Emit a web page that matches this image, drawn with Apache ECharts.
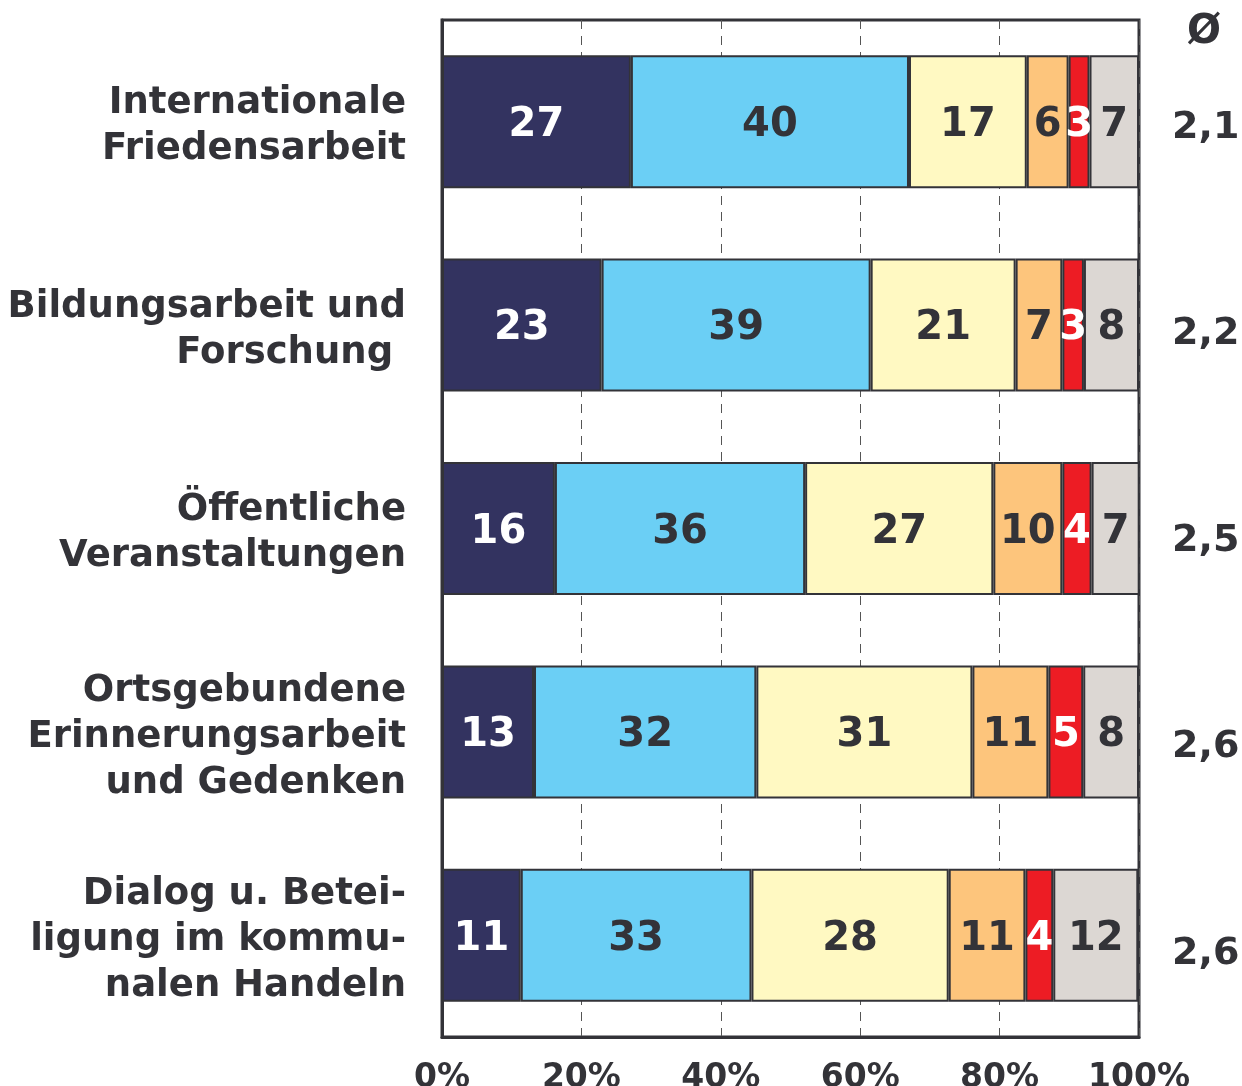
<!DOCTYPE html>
<html>
<head>
<meta charset="utf-8">
<script src="https://cdn.jsdelivr.net/npm/echarts@6/dist/echarts.min.js"></script>
<style>html,body{margin:0;padding:0;background:#fff}#c{width:1242px;height:1086px}</style>
</head>
<body>
<div id="c"></div>
<script>
const categories = [
  'Internationale\nFriedensarbeit',
  'Bildungsarbeit und\nForschung ',
  'Öffentliche\nVeranstaltungen',
  'Ortsgebundene\nErinnerungsarbeit\nund Gedenken',
  'Dialog u. Betei-\nligung im kommu-\nnalen Handeln'
];
const seg1 = [27.1, 22.9, 16.2, 13.2, 11.3];
const seg2 = [39.9, 38.6, 35.9, 31.9, 33.1];
const seg3 = [16.9, 20.8, 27.0, 31.0, 28.3];
const seg4 = [6.0, 6.7, 9.9, 10.9, 11.0];
const seg5 = [3.0, 3.1, 4.2, 5.0, 4.0];
const seg6 = [7.1, 7.9, 6.9, 8.0, 12.2];
const averages = ['2,1', '2,2', '2,5', '2,6', '2,6'];
const avgSymbol = 'Ø';
const xTicks = [0, 20, 40, 60, 80, 100];

const dark = '#333338';
const font = 'DejaVu Sans';
const segs = [seg1, seg2, seg3, seg4, seg5, seg6];
const colors = ['#333360', '#6bcff5', '#fff9c2', '#fdc57c', '#ed1c24', '#dcd7d3'];
const labelColors = ['#ffffff', dark, dark, dark, '#ffffff', dark];

const chart = echarts.init(document.getElementById('c'), null, {renderer: 'canvas'});
chart.setOption({
  animation: false,
  title: {text: avgSymbol, left: 1182, top: 8, textStyle: {fontFamily: font, fontWeight: 'bold', fontSize: 40, color: dark}},
  grid: [
    {left: 442, right: 103, top: 20, bottom: 49, outerBoundsMode: 'none', containLabel: false, show: true, borderColor: dark, borderWidth: 3, backgroundColor: 'transparent'},
    {left: 442, right: 103, top: 25, height: 1032, outerBoundsMode: 'none', containLabel: false, show: false},
    {left: 442, right: 103, top: 25, bottom: 44, outerBoundsMode: 'none', containLabel: false, show: false}
  ],
  xAxis: [
    {type: 'value', min: 0, max: 100, interval: 20, gridIndex: 0,
      axisLine: {show: true, lineStyle: {color: dark, width: 3}},
      axisTick: {show: false},
      splitLine: {show: true, lineStyle: {color: '#555', width: 1, type: [9, 7]}},
      axisLabel: {formatter: v => v + '%', margin: 25, fontFamily: font, fontWeight: 'bold', fontSize: 33, color: dark}
    },
    {type: 'value', min: 0, max: 100, gridIndex: 1, show: false},
    {type: 'value', min: 0, max: 100, gridIndex: 2, show: false}
  ],
  yAxis: [
    {type: 'category', data: categories, inverse: true, gridIndex: 0,
      axisLine: {show: true, lineStyle: {color: dark, width: 3}},
      axisTick: {show: false},
      axisLabel: {show: false}
    },
    {type: 'category', data: averages, inverse: true, gridIndex: 1, position: 'right',
      axisLine: {show: false}, axisTick: {show: false},
      axisLabel: {margin: 33, align: 'left', fontFamily: font, fontWeight: 'bold', fontSize: 38, color: dark}
    },
    {type: 'category', data: categories, inverse: true, gridIndex: 2, position: 'left',
      axisLine: {show: false}, axisTick: {show: false},
      axisLabel: {margin: 36, fontFamily: font, fontWeight: 'bold', fontSize: 37, lineHeight: 46, color: dark, align: 'right'}
    }
  ],
  series: segs.map((d, i) => ({
    type: 'bar', stack: 'all', data: d, barWidth: 133,
    xAxisIndex: 0, yAxisIndex: 0,
    itemStyle: {color: colors[i], borderColor: dark, borderWidth: 2},
    label: {show: true, position: 'inside', offset: [0, 4], formatter: p => Math.round(p.value),
      fontFamily: font, fontWeight: 'bold', fontSize: 40, color: labelColors[i]}
  }))
});
</script>
</body>
</html>
